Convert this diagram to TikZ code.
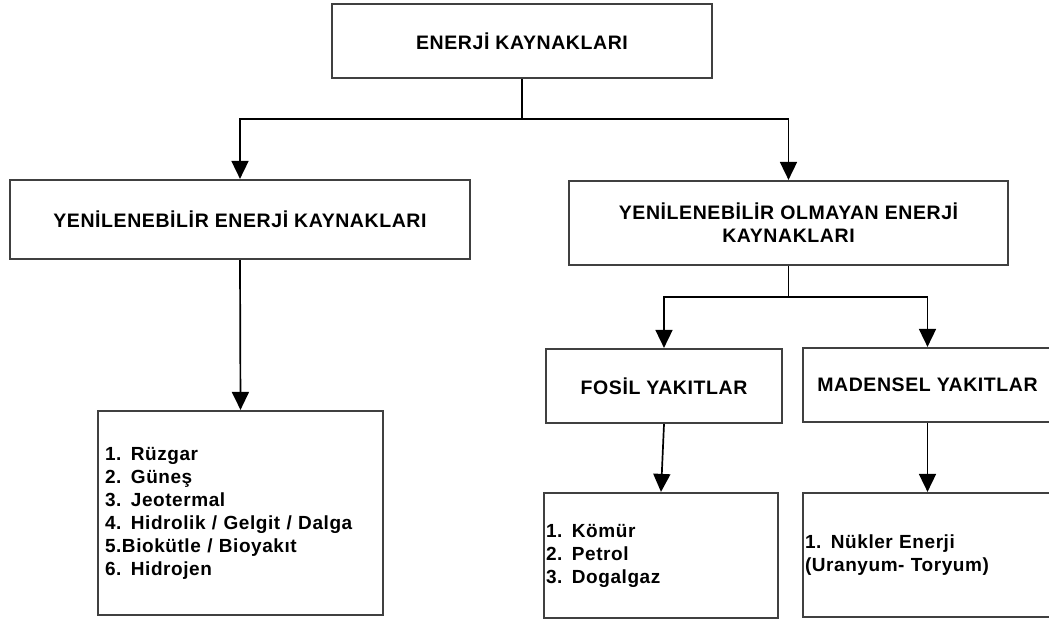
\documentclass[tikz,border=0pt]{standalone}
\usepackage{fontspec}
\setmainfont{Liberation Sans}[LetterSpace=3]
\usetikzlibrary{arrows.meta}

\begin{document}
\begin{tikzpicture}[x=1pt,y=-1pt,
  box/.style={draw=black!75, line width=2.2pt, inner sep=0pt,
    font=\bfseries\fontsize{19.5}{23}\selectfont, align=center},
  listbox/.style={draw=black!75, line width=2.2pt, inner ysep=0pt,
    font=\bfseries\fontsize{19}{23}\selectfont, align=left},
  conn/.style={line width=1.7pt},
  arr/.style={line width=1.7pt, -{Triangle[width=17pt,length=18pt]}}]
\useasboundingbox (0,0) rectangle (1049,621);
\clip (0,0) rectangle (1049,621);

% Top box
\node[box, minimum width=380, minimum height=74] (top) at (522,41) {ENERJİ KAYNAKLARI};

% Second level
\node[box, minimum width=460, minimum height=79] (ren) at (240,219.5)
  {YENİLENEBİLİR ENERJİ KAYNAKLARI};
\node[box, minimum width=439, minimum height=84] (nonren) at (788.5,223)
  {YENİLENEBİLİR OLMAYAN ENERJİ\\KAYNAKLARI};

% Third level
\node[box, minimum width=236, minimum height=74] (fosil) at (664,386) {FOSİL YAKITLAR};
\node[box, minimum width=249, minimum height=74] (maden) at (927.5,385) {MADENSEL YAKITLAR};

% Lists
\node[listbox, inner xsep=7pt, text width=271, minimum height=204] (renlist) at (240.5,513)
  {1. Rüzgar\\2. Güneş\\3. Jeotermal\\4. Hidrolik / Gelgit / Dalga\\5.Biokütle / Bioyakıt\\6. Hidrojen};
\node[listbox, inner xsep=2pt, text width=230, minimum height=125] (fosillist) at (661,555.5)
  {1. Kömür\\2. Petrol\\3. Dogalgaz};
\node[listbox, inner xsep=2pt, text width=245, minimum height=124] (madenlist) at (927.5,555)
  {1. Nükler Enerji\\(Uranyum- Toryum)};

% Connectors
\draw[conn] (top.south) -- ++(0,40) coordinate (split1);
\draw[arr] (split1) -| (ren.north);
\draw[arr] (split1) -| (nonren.north);
\draw[arr] (ren.south) -- (renlist.north);
\draw[conn] (nonren.south) -- ++(0,31) coordinate (split2);
\draw[arr] (split2) -| (fosil.north);
\draw[arr] (split2) -| (maden.north);
\draw[arr] (fosil.south) -- (fosillist.north);
\draw[arr] (maden.south) -- (madenlist.north);
\end{tikzpicture}
\end{document}
